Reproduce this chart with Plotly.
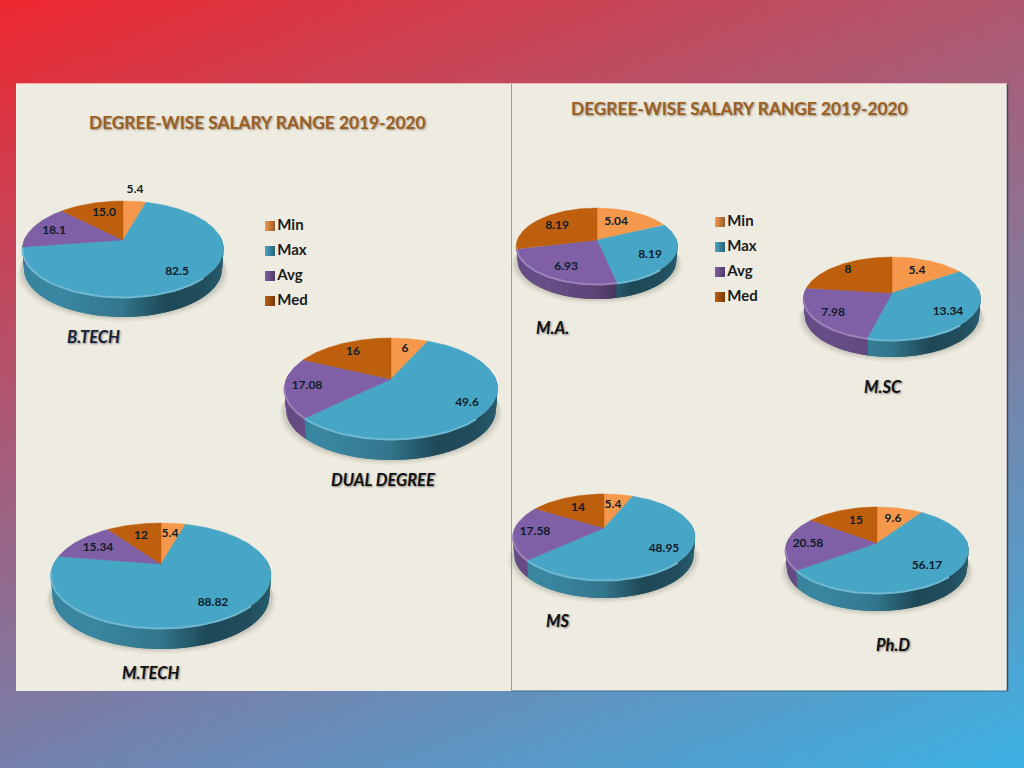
import numpy as np
import plotly.graph_objects as go

# salary values, one list per series
DEGREES = ["B.TECH", "DUAL DEGREE", "M.TECH", "M.A.", "M.SC", "MS", "Ph.D"]
SERIES = ["Min", "Max", "Avg", "Med"]
MIN_VALS = [5.4, 6, 5.4, 5.04, 5.4, 5.4, 9.6]
MAX_VALS = [82.5, 49.6, 88.82, 8.19, 13.34, 48.95, 56.17]
AVG_VALS = [18.1, 17.08, 15.34, 6.93, 7.98, 17.58, 20.58]
MED_VALS = [15.0, 16, 12, 8.19, 8, 14, 15]
TITLE = "DEGREE-WISE SALARY RANGE 2019-2020"

# layout in page pixels: apex x, apex y, half width, rim above apex, rim below apex, thickness
PIE_GEOM = [
    (123, 240, 100.5, 39, 57, 20),
    (391, 379, 106.5, 41, 60, 21),
    (161, 564, 110, 41, 64, 21),
    (597, 240, 80.5, 32, 44, 15),
    (892, 293, 88.5, 36, 47, 17),
    (604, 528, 91, 34, 52, 18),
    (877, 543, 91.5, 36, 50, 18),
]
# value label anchors, same order as SERIES
LABEL_POS = [
    [(135, 190), (177, 272), (54, 231), (104, 213)],
    [(405, 349), (467, 403), (307, 386), (353, 352)],
    [(170, 534), (213, 603), (98, 548), (141, 536)],
    [(616, 222), (650, 255), (566, 267), (557, 226)],
    [(917, 271), (948, 312), (833, 313), (848, 270)],
    [(613, 505), (664, 549), (535, 532), (578, 508)],
    [(893, 519), (927, 566), (808, 544), (856, 521)],
]
NAME_POS = [(93, 337), (383, 480), (150, 673), (552, 328), (883, 387), (558, 621), (893, 645)]
NAME_COLORS = ["#16233a", "#111111", "#111111", "#111111", "#111111", "#111111", "#111111"]
COLORS = [(245, 152, 76), (71, 165, 197), (127, 95, 165), (190, 95, 14)]

FONT = "Lato"
PANEL = "#eeebe1"


def rgb(c):
    return "rgb(%d,%d,%d)" % tuple(c)


def rim(geom, t):
    # circle seen in perspective, so the apex sits above the middle of the ellipse
    cx, cy, hw, top, bottom, _ = geom
    p = (bottom - top) / (bottom + top)
    rs = top * (1 + p)
    r = hw * np.sqrt(1 - p * p)
    u, v = np.sin(t), -np.cos(t)
    w = 1 - p * v
    return cx + r * u / w, cy + rs * v / w


def side_shade(f):
    return np.interp(f, [-1, -0.6, 0, 0.45, 0.8, 1], [0.8, 0.82, 0.72, 0.44, 0.47, 0.56])


fig = go.Figure()

# slide background, blended from the four corners
ny, nx = 97, 129
corners = np.array([[238, 40, 48], [176, 88, 112], [118, 128, 172], [60, 178, 228]], dtype=float)
fx = np.linspace(0, 1, nx)[None, :, None]
fy = np.linspace(0, 1, ny)[:, None, None]
bg = (1 - fy) * ((1 - fx) * corners[0] + fx * corners[1]) + fy * ((1 - fx) * corners[2] + fx * corners[3])
fig.add_trace(go.Image(z=bg.astype(np.uint8), x0=0, y0=0, dx=1024 / (nx - 1), dy=768 / (ny - 1),
                       zsmooth="fast", hoverinfo="skip"))

# the two slide panels
for x0, x1 in [(16, 511), (512, 1007)]:
    fig.add_trace(go.Scatter(x=[x0, x1, x1, x0, x0], y=[84, 84, 691, 691, 84], mode="lines", fill="toself",
                             fillcolor=PANEL, line=dict(width=0), hoverinfo="skip"))
fig.add_trace(go.Scatter(x=[511.5, 511.5], y=[84, 691], mode="lines", line=dict(color="#a8959c", width=1),
                         hoverinfo="skip"))
fig.add_trace(go.Scatter(x=[1007.5, 1007.5], y=[84, 691], mode="lines", line=dict(color="#3f4a5e", width=1.5),
                         hoverinfo="skip"))
fig.add_trace(go.Scatter(x=[512, 1008], y=[691, 691], mode="lines", line=dict(color="#3f6f8c", width=1),
                         hoverinfo="skip"))
fig.add_trace(go.Scatter(x=[16, 1007], y=[83.5, 83.5], mode="lines", line=dict(color="rgba(255,225,215,0.7)", width=1),
                         hoverinfo="skip"))

series_vals = [MIN_VALS, MAX_VALS, AVG_VALS, MED_VALS]
for i, geom in enumerate(PIE_GEOM):
    vals = [float(s[i]) for s in series_vals]
    edges = np.cumsum([0] + vals) / sum(vals) * 2 * np.pi
    cx, cy, hw, top, bottom, depth = geom

    # soft shadow under the pie
    tt = np.linspace(0, 2 * np.pi, 90)
    sx, sy = rim(geom, tt)
    for d, a in [(5, 0.05), (3, 0.07), (1.5, 0.09)]:
        fig.add_trace(go.Scatter(x=cx + (sx - cx) * (1 + d / hw), y=sy + depth + d, mode="lines", fill="toself",
                                 fillcolor="rgba(70,70,60,%.2f)" % a, line=dict(width=0), hoverinfo="skip"))

    # thickness, cut in narrow strips so it can shade from left to right
    # each strip runs on under the next one, that hides the seams; the underside is a bit narrower
    steps = np.deg2rad(np.arange(84, 278, 2.0))
    for t0, t1 in zip(steps[:-2], steps[2:]):
        mid = t0 + (t1 - t0) / 4
        k = int(np.searchsorted(edges, mid, side="right")) - 1
        x0, y0 = rim(geom, t0)
        x1, y1 = rim(geom, t1)
        b0, b1 = cx + (x0 - cx) * 0.985, cx + (x1 - cx) * 0.985
        shade = side_shade((x0 - cx) / hw)
        col = rgb([c * shade for c in COLORS[k]])
        fig.add_trace(go.Scatter(x=[x0, x1, b1, b0, x0], y=[y0, y1, y1 + depth, y0 + depth, y0], mode="lines",
                                 fill="toself", fillcolor=col, line=dict(width=0), hoverinfo="skip"))

    # top face
    for k in range(4):
        arc = np.linspace(edges[k], edges[k + 1], max(int(np.degrees(edges[k + 1] - edges[k])), 2) + 1)
        ax, ay = rim(geom, arc)
        fig.add_trace(go.Scatter(x=np.r_[cx, ax, cx], y=np.r_[cy, ay, cy], mode="lines", fill="toself",
                                 fillcolor=rgb(COLORS[k]), line=dict(color=rgb(COLORS[k]), width=0.5),
                                 name=SERIES[k], hoverinfo="name"))

    # bevel highlight along the front rim
    for k in range(4):
        lo, hi = max(edges[k], np.deg2rad(135)), min(edges[k + 1], np.deg2rad(262))
        if hi > lo:
            hx, hy = rim(geom, np.linspace(lo, hi, 40))
            light = [c + (255 - c) * 0.22 for c in COLORS[k]]
            fig.add_trace(go.Scatter(x=hx, y=hy + 0.5, mode="lines", line=dict(color=rgb(light), width=2),
                                     hoverinfo="skip"))

    # value labels
    fig.add_trace(go.Scatter(x=[p[0] for p in LABEL_POS[i]], y=[p[1] for p in LABEL_POS[i]], mode="text",
                             text=[str(s[i]) for s in series_vals], hoverinfo="skip",
                             textfont=dict(family=FONT, size=12, color="#0e1c2a", weight="bold")))

# legends, one per panel
for lx, ly in [(270, 226), (720, 222)]:
    for k, name in enumerate(SERIES):
        dark = rgb([c * 0.6 for c in COLORS[k]])
        fig.add_trace(go.Scatter(x=[lx], y=[ly + 25 * k], mode="markers+text", name=name, text=[name],
                                 textposition="middle right", hoverinfo="name",
                                 marker=dict(symbol="square", size=10, color=rgb(COLORS[k]),
                                             gradient=dict(type="horizontal", color=dark)),
                                 textfont=dict(family=FONT, size=15, color="#1b1b1b", weight="bold")))

notes = [dict(x=257, y=122, text=TITLE), dict(x=739, y=108, text=TITLE)]
title_font = dict(family=FONT, size=17.3, color="#9a5f24", weight="bold", shadow="1px 1px 2px rgba(90,70,50,0.55)")
annotations = [dict(n, xref="x", yref="y", showarrow=False, font=title_font) for n in notes]
for name, pos, col in zip(DEGREES, NAME_POS, NAME_COLORS):
    annotations.append(dict(x=pos[0], y=pos[1], xref="x", yref="y", text="<i>%s</i>" % name, showarrow=False,
                            font=dict(family=FONT, size=16.5, color=col, weight="bold",
                                      shadow="1px 1px 2px rgba(60,60,60,0.6)")))

fig.update_layout(
    width=1024,
    height=768,
    margin=dict(l=0, r=0, t=0, b=0),
    showlegend=False,
    paper_bgcolor=PANEL,
    plot_bgcolor=PANEL,
    annotations=annotations,
    xaxis=dict(range=[0, 1024], visible=False),
    yaxis=dict(range=[768, 0], visible=False),
)

fig.write_html("out.html", config=dict(displayModeBar=False), post_script="document.body.style.margin='0';")
